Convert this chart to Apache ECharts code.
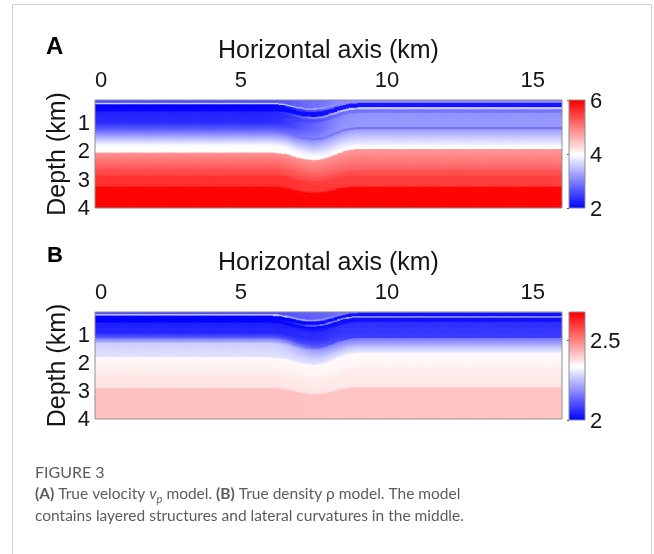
<!DOCTYPE html>
<html>
<head>
<meta charset="utf-8">
<script src="https://cdn.jsdelivr.net/npm/echarts@6.0.0/dist/echarts.min.js"></script>
<style>
  html, body { margin: 0; padding: 0; background: #fff; }
  #chart { width: 654px; height: 554px; }
</style>
</head>
<body>
<div id="chart"></div>
<script>
// ---- axes ----
const xTickStep = 5;                 // labels 0, 5, 10, 15
const zTicks = [1, 2, 3, 4];
const vpBarTicks = [2, 4, 6];
const rhoBarTicks = [2, 2.5];
const vpRange = [2, 6];
const rhoRange = [2, 2.675];

// ---- lateral geometry: horizon deflection (km) along x, at three reference depths ----
const bendX       = [0, 6.0, 6.3, 6.6, 6.9, 7.2, 7.5, 7.8, 8.1, 8.4, 8.7, 9.0, 16];
const bendShallow = [0, 0, 0.02, 0.07, 0.14, 0.19, 0.19, 0.16, 0.09, 0, -0.07, -0.10, -0.10];
const bendDeep    = [0, 0, 0.02, 0.07, 0.18, 0.26, 0.30, 0.26, 0.14, 0, -0.10, -0.14, -0.14];
const bendBottom  = [0, 0, 0, 0.035, 0.10, 0.16, 0.18, 0.16, 0.09, 0, -0.035, -0.035, -0.035];
const bendRefDepth = [0.3, 2.0, 3.3];
// share of the eastern column profile along x
const blendW      = [0, 0, 0.05, 0.15, 0.30, 0.45, 0.55, 0.65, 0.78, 0.90, 0.97, 1, 1];

// ---- P-wave velocity (km/s): layer boundaries and values at top/bottom of each layer ----
const vpWestDepth  = [0.20, 0.29, 0.34, 0.59, 1.00, 1.25, 1.55, 1.80, 2.05, 2.59, 2.84, 3.26, 4.00];
const vpWestTop    = [2.6, 3.6, 2.0, 2.25, 2.35, 2.75, 3.45, 3.97, 4.85, 5.35, 5.6, 5.97];
const vpWestBottom = [2.6, 3.6, 2.05, 2.35, 2.75, 3.45, 3.95, 4.03, 5.3, 5.45, 5.65, 6.0];
const vpEastDepth  = [0.20, 0.31, 0.46, 0.53, 0.66, 1.15, 1.22, 1.82, 1.92, 2.66, 2.84, 3.26, 4.00];
const vpEastTop    = [3.1, 2.15, 3.6, 2.9, 3.15, 2.9, 3.2, 3.97, 4.8, 5.35, 5.5, 5.97];
const vpEastBottom = [3.1, 2.15, 3.6, 2.9, 3.2, 2.9, 3.95, 4.02, 5.25, 5.4, 5.55, 6.0];

// ---- density (g/cm^3) ----
const rhoWestDepth  = [0.20, 0.27, 0.33, 0.58, 0.94, 1.12, 1.30, 1.81, 2.33, 2.90, 4.00];
const rhoWestTop    = [2.10, 2.27, 2.00, 2.04, 2.05, 2.15, 2.27, 2.345, 2.365, 2.42];
const rhoWestBottom = [2.10, 2.27, 2.00, 2.05, 2.12, 2.25, 2.30, 2.36, 2.375, 2.42];
const rhoEastDepth  = [0.20, 0.235, 0.34, 0.395, 0.555, 1.12, 1.40, 1.65, 2.15, 2.88, 4.00];
const rhoEastTop    = [2.15, 2.02, 2.22, 2.02, 2.06, 2.15, 2.25, 2.345, 2.36, 2.415];
const rhoEastBottom = [2.15, 2.02, 2.22, 2.02, 2.08, 2.24, 2.31, 2.35, 2.37, 2.415];

// ---- grid of model cells ----
const xMin = 0, xMax = 16, zTop = 0.2, zBottom = 4;
const cellDx = 0.1, cellDz = 0.025;

function sampleTable(xs, ys, x) {
  if (x <= xs[0]) return ys[0];
  for (let i = 1; i < xs.length; i++) {
    if (x <= xs[i]) {
      const t = (x - xs[i - 1]) / (xs[i] - xs[i - 1]);
      return ys[i - 1] + t * (ys[i] - ys[i - 1]);
    }
  }
  return ys[ys.length - 1];
}

function layerValue(bounds, topVals, botVals, z) {
  if (z <= bounds[0]) return topVals[0];
  for (let k = 0; k < topVals.length; k++) {
    if (z < bounds[k + 1]) {
      const f = (z - bounds[k]) / (bounds[k + 1] - bounds[k]);
      return topVals[k] + f * (botVals[k] - topVals[k]);
    }
  }
  return botVals[botVals.length - 1];
}

function bendOffset(x, z) {
  const refs = [
    sampleTable(bendX, bendShallow, x),
    sampleTable(bendX, bendDeep, x),
    sampleTable(bendX, bendBottom, x)
  ];
  return sampleTable(bendRefDepth, refs, z);
}

function buildCells(west, east) {
  const cells = [];
  const nx = Math.round((xMax - xMin) / cellDx);
  const nz = Math.round((zBottom - zTop) / cellDz);
  for (let i = 0; i < nx; i++) {
    const x0 = xMin + i * cellDx;
    const xc = x0 + cellDx / 2;
    const w = sampleTable(bendX, blendW, xc);
    for (let j = 0; j < nz; j++) {
      const z0 = zTop + j * cellDz;
      const zc = z0 + cellDz / 2;
      const off = bendOffset(xc, zc);
      const offEast = bendOffset(xMax, zc);
      const vw = layerValue(west[0], west[1], west[2], zc - off);
      const ve = layerValue(east[0], east[1], east[2], zc - off + offEast);
      cells.push([x0, z0, (1 - w) * vw + w * ve]);
    }
  }
  return cells;
}

function buildBar(range, steps) {
  const out = [];
  const d = (range[1] - range[0]) / steps;
  for (let i = 0; i < steps; i++) {
    const v0 = range[0] + i * d;
    out.push([0, v0, v0 + d / 2, d]);
  }
  return out;
}

const vpCells = buildCells([vpWestDepth, vpWestTop, vpWestBottom], [vpEastDepth, vpEastTop, vpEastBottom]);
const rhoCells = buildCells([rhoWestDepth, rhoWestTop, rhoWestBottom], [rhoEastDepth, rhoEastTop, rhoEastBottom]);
const vpBar = buildBar(vpRange, 216);
const rhoBar = buildBar(rhoRange, 216);

const font = 'Liberation Sans';
const ink = '#151515';
const frame = '#8f8f8f';
const bwr = ['#0000ff', '#ffffff', '#ff0000'];

function isStep(v, step) {
  const k = v / step;
  return Math.abs(k - Math.round(k)) < 1e-6;
}

function cellItem(params, api) {
  const p0 = api.coord([api.value(0), api.value(1)]);
  const p1 = api.coord([api.value(0) + cellDx, api.value(1) + cellDz]);
  return {
    type: 'rect',
    shape: { x: p0[0], y: p0[1], width: p1[0] - p0[0] + 0.6, height: p1[1] - p0[1] + 0.6 },
    style: { fill: api.visual('color') }
  };
}

function barItem(params, api) {
  const p0 = api.coord([0, api.value(1)]);
  const p1 = api.coord([1, api.value(1) + api.value(3)]);
  return {
    type: 'rect',
    shape: { x: p0[0], y: p1[1], width: p1[0] - p0[0], height: p0[1] - p1[1] + 0.6 },
    style: { fill: api.visual('color') }
  };
}

function gridBox(left, top, width, height) {
  return { left, top, width, height, show: true, borderColor: frame, borderWidth: 1,
           backgroundColor: 'transparent', z: 5 };
}

function modelXAxis(gridIndex) {
  return {
    gridIndex, type: 'value', min: xMin, max: xMax, interval: xTickStep, position: 'top',
    axisLine: { show: false }, axisTick: { show: false }, splitLine: { show: false },
    axisLabel: {
      margin: 8, fontSize: 22, color: ink, fontFamily: font, alignMinLabel: 'left', showMaxLabel: false,
      formatter: v => (isStep(v, xTickStep) ? String(Math.round(v)) : '')
    },
    name: 'Horizontal axis (km)', nameLocation: 'middle', nameGap: 36,
    nameTextStyle: { fontSize: 25, color: ink, fontFamily: font }
  };
}

function modelYAxis(gridIndex) {
  return {
    gridIndex, type: 'value', min: zTop, max: zBottom, inverse: true,
    axisLine: { show: false }, axisTick: { show: false }, splitLine: { show: false },
    axisLabel: { show: false }
  };
}

function barXAxis(gridIndex) {
  return { gridIndex, type: 'value', min: 0, max: 1, show: false };
}

function barYAxis(gridIndex, range, ticks) {
  return {
    gridIndex, type: 'value', min: range[0], max: range[1], position: 'right',
    axisLine: { show: false }, splitLine: { show: false }, axisLabel: { show: false },
    axisTick: { show: true, inside: true, length: 2, customValues: ticks, lineStyle: { color: '#555' } }
  };
}

function modelSeries(name, axisIndex, data) {
  return {
    type: 'custom', name, xAxisIndex: axisIndex, yAxisIndex: axisIndex, data,
    renderItem: cellItem, clip: true, silent: true, encode: { x: 0, y: 1 },
    progressive: 0, progressiveThreshold: 1e9
  };
}

function barSeries(name, axisIndex, data) {
  return {
    type: 'custom', name, xAxisIndex: axisIndex, yAxisIndex: axisIndex, data,
    renderItem: barItem, clip: true, silent: true, encode: { x: 0, y: 1 },
    progressive: 0, progressiveThreshold: 1e9
  };
}

const option = {
  animation: false,
  backgroundColor: '#ffffff',
  grid: [
    gridBox(95, 100, 467, 108),
    gridBox(569, 100, 16, 108),
    gridBox(95, 312, 467, 107),
    gridBox(569, 312, 16, 108)
  ],
  xAxis: [modelXAxis(0), barXAxis(1), modelXAxis(2), barXAxis(3)],
  yAxis: [modelYAxis(0), barYAxis(1, vpRange, vpBarTicks), modelYAxis(2), barYAxis(3, rhoRange, rhoBarTicks)],
  visualMap: [
    { type: 'continuous', show: false, min: vpRange[0], max: vpRange[1], dimension: 2, seriesIndex: [0, 1], inRange: { color: bwr } },
    { type: 'continuous', show: false, min: rhoRange[0], max: rhoRange[1], dimension: 2, seriesIndex: [2, 3], inRange: { color: bwr } }
  ],
  series: [
    modelSeries('vp', 0, vpCells),
    barSeries('vp scale', 1, vpBar),
    modelSeries('rho', 2, rhoCells),
    barSeries('rho scale', 3, rhoBar)
  ]
};

const chart = echarts.init(document.getElementById('chart'), null, { renderer: 'canvas' });
chart.setOption(option);

// Depth and colour-scale labels, placed through each grid's own axis scale.
const tickText = [];
[0, 2].forEach(function (gi) {
  zTicks.forEach(function (z) {
    const p = chart.convertToPixel({ gridIndex: gi }, [xMin, z]);
    tickText.push({ type: 'text', x: p[0] - 5, y: p[1] + 1, silent: true,
      style: { text: String(z), font: '22px "Liberation Sans"', fill: ink, align: 'right', verticalAlign: 'middle' } });
  });
});
[[1, vpBarTicks], [3, rhoBarTicks]].forEach(function (pair) {
  pair[1].forEach(function (v) {
    const p = chart.convertToPixel({ gridIndex: pair[0] }, [1, v]);
    tickText.push({ type: 'text', x: p[0] + 5, y: p[1] + 2, silent: true,
      style: { text: String(v), font: '22px "Liberation Sans"', fill: ink, align: 'left', verticalAlign: 'middle' } });
  });
});
// Vertical axis titles, centred on each model panel.
[0, 2].forEach(function (gi) {
  const top = chart.convertToPixel({ gridIndex: gi }, [xMin, zTop]);
  const bottom = chart.convertToPixel({ gridIndex: gi }, [xMin, zBottom]);
  tickText.push({ type: 'text', x: top[0] - 37, y: (top[1] + bottom[1]) / 2, rotation: Math.PI / 2, silent: true,
    style: { text: 'Depth (km)', font: '25px "Liberation Sans"', fill: ink, align: 'center', verticalAlign: 'middle' } });
});

chart.setOption({
  graphic: [
    { type: 'rect', silent: true, shape: { x: 12.5, y: 4.5, width: 639, height: 620 },
      style: { fill: 'none', stroke: '#cfcfcf', lineWidth: 1 } },
    { type: 'text', left: 46, top: 35, style: { text: 'A', font: 'bold 24px "Liberation Sans"', fill: '#000' } },
    { type: 'text', left: 47, top: 245, style: { text: 'B', font: 'bold 22px "Liberation Sans"', fill: '#000' } },
    { type: 'text', left: 35, top: 465, style: { text: 'FIGURE 3', font: '16px Lato', fill: '#5c5c5c' } },
    { type: 'text', left: 35, top: 483, style: {
        text: '{b|(A)} True velocity {i|v}{s|p} model. {b|(B)} True density ρ model. The model\ncontains layered structures and lateral curvatures in the middle.',
        font: '15.5px Lato', fill: '#5c5c5c', lineHeight: 22,
        rich: {
          b: { fontWeight: 'bold', fontSize: 15.5, fontFamily: 'Lato', fill: '#5c5c5c', lineHeight: 22 },
          i: { fontStyle: 'italic', fontSize: 15.5, fontFamily: 'Lato', fill: '#5c5c5c', lineHeight: 22 },
          s: { fontStyle: 'italic', fontSize: 11, fontFamily: 'Lato', fill: '#5c5c5c', lineHeight: 22, verticalAlign: 'bottom' }
        }
      } }
  ].concat(tickText)
});
</script>
</body>
</html>
